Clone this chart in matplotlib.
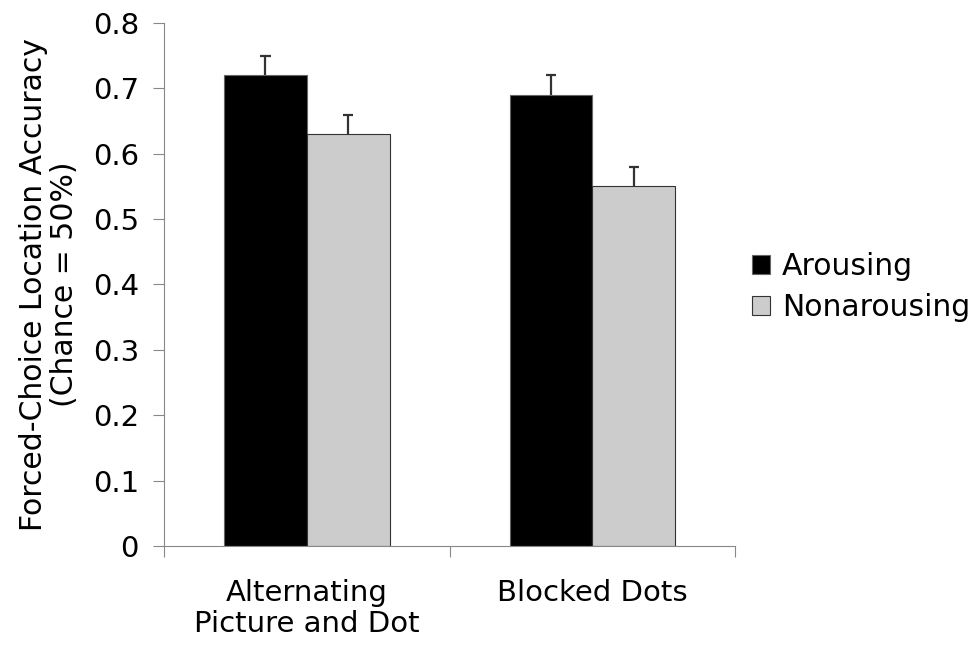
import matplotlib.pyplot as plt
import numpy as np

categories = ['Alternating\nPicture and Dot', 'Blocked Dots']
arousing = [0.72, 0.69]
nonarousing = [0.63, 0.55]
arousing_err = [0.03, 0.03]
nonarousing_err = [0.03, 0.03]
yticks = [0, 0.1, 0.2, 0.3, 0.4, 0.5, 0.6, 0.7, 0.8]

FS = 21

fig = plt.figure(figsize=(9.79, 6.46), dpi=100)
ax = fig.add_axes([0.1675, 0.1548, 0.5835, 0.8096])

x = np.arange(len(categories))
w = 0.29
ax.bar(x - w / 2, arousing, w, color='black', edgecolor='#666666', linewidth=0.8, label='Arousing')
ax.bar(x + w / 2, nonarousing, w, color='#cccccc', edgecolor='#333333', linewidth=0.8, label='Nonarousing')

# upper-only error bars
cap = 0.018
for xs, vals, errs in [(x - w / 2, arousing, arousing_err), (x + w / 2, nonarousing, nonarousing_err)]:
    tops = np.array(vals) + np.array(errs)
    ax.vlines(xs, vals, tops, color='#333333', linewidth=1.6)
    ax.hlines(tops, xs - cap, xs + cap, color='#333333', linewidth=1.6)

ax.set_xlim(-0.5, 1.5)
ax.set_ylim(0, 0.8)
ax.set_yticks(yticks)
ax.set_yticklabels(['0' if v == 0 else f'{v:.1f}' for v in yticks])
ax.set_xticks([-0.5, 0.5, 1.5])
ax.set_xticklabels([])
ax.set_xticks(x, minor=True)
ax.set_xticklabels(categories, minor=True, fontsize=FS, linespacing=1.1)
ax.tick_params(axis='x', which='minor', length=0, pad=24)
ax.tick_params(axis='x', which='major', length=8, color='#888888')
ax.tick_params(axis='y', length=8, color='#888888', labelsize=FS, pad=10)

for s in ['top', 'right']:
    ax.spines[s].set_visible(False)
for s in ['left', 'bottom']:
    ax.spines[s].set_color('#888888')

ax.set_ylabel('Forced-Choice Location Accuracy\n(Chance = 50%)', fontsize=21.5, labelpad=10,
              linespacing=1.1)

ax.legend(loc='center left', bbox_to_anchor=(752 / 979, 1 - 287 / 646),
          bbox_transform=fig.transFigure, frameon=False, fontsize=21.5,
          borderpad=0, borderaxespad=0,
          handlelength=0.6, handleheight=0.6, handletextpad=0.4, labelspacing=0.4)

fig.savefig('out.png', dpi=100)
